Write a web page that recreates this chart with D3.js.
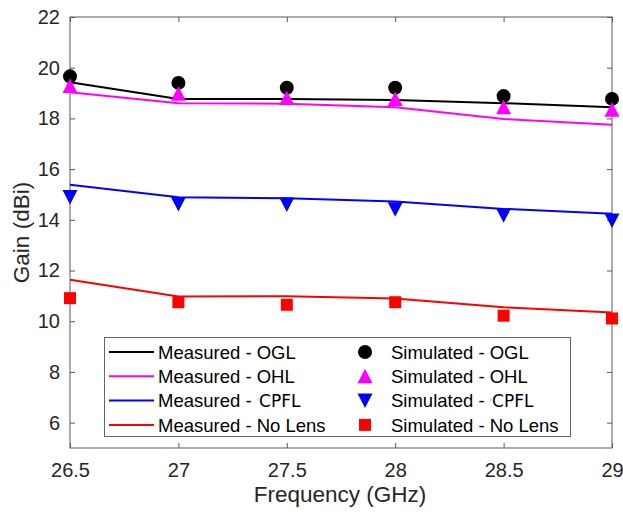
<!DOCTYPE html>
<meta charset="utf-8">
<style>
  body { margin: 0; background: #fff; }
  svg { display: block; font-family: Arial, "Liberation Sans", sans-serif; }
  .label { fill: #262626; font-size: 22.5px; text-anchor: middle; }
  .leg { fill: #000; font-size: 18.5px; }
</style>
<svg width="623" height="516"></svg>
<script src="https://d3js.org/d3.v7.min.js"></script>
<script>

var freq = [26.5, 27, 27.5, 28, 28.5, 29];

var measOGL = [19.43, 18.77, 18.77, 18.73, 18.60, 18.44];
var measOHL = [19.03, 18.60, 18.58, 18.44, 17.98, 17.75];
var measCPFL = [15.38, 14.89, 14.85, 14.72, 14.43, 14.24];
var measNoLens = [11.64, 10.98, 10.99, 10.90, 10.55, 10.34];

var simOGL = [19.66, 19.40, 19.21, 19.21, 18.88, 18.77];
var simOHL = [19.28, 18.97, 18.81, 18.77, 18.44, 18.34];
var simCPFL = [14.90, 14.62, 14.60, 14.42, 14.18, 13.97];
var simNoLens = [10.91, 10.75, 10.65, 10.75, 10.22, 10.11];

var xTicks = [26.5, 27, 27.5, 28, 28.5, 29];
var yTicks = [6, 8, 10, 12, 14, 16, 18, 20, 22];

var series = [
  { name: "OGL", color: "#000000", meas: measOGL, sim: simOGL, marker: "circle" },
  { name: "OHL", color: "#ff00ff", meas: measOHL, sim: simOHL, marker: "up" },
  { name: "CPFL", color: "#0000ff", meas: measCPFL, sim: simCPFL, marker: "down" },
  { name: "No Lens", color: "#ff0000", meas: measNoLens, sim: simNoLens, marker: "square" }
];

var svg = d3.select("svg"),
    pl = 70, pr = 612, pt = 17, pb = 448;

var x = d3.scaleLinear().domain([26.5, 29]).range([pl, pr]);
var y = d3.scaleLinear().domain([5, 22]).range([pb, pt]);

var axColor = "#5a5a5a";

function styleAxis(g) {
  g.select(".domain").remove();
  g.selectAll(".tick line").attr("stroke", axColor).attr("stroke-width", 1);
  g.selectAll(".tick text").attr("fill", "#262626").style("font-size", "20px");
}

svg.append("g")
    .attr("transform", "translate(0," + pb + ")")
    .call(d3.axisBottom(x).tickValues(xTicks).tickSize(-5).tickPadding(15)
      .tickFormat(function (d) { return String(d); }))
    .call(styleAxis);

svg.append("g")
    .attr("transform", "translate(0," + pt + ")")
    .call(d3.axisTop(x).tickValues(xTicks).tickSize(-5).tickFormat(""))
    .call(styleAxis);

svg.append("g")
    .attr("transform", "translate(" + pl + ",0)")
    .call(d3.axisLeft(y).tickValues(yTicks).tickSize(-5).tickPadding(10))
    .call(styleAxis);

svg.append("g")
    .attr("transform", "translate(" + pr + ",0)")
    .call(d3.axisRight(y).tickValues(yTicks).tickSize(-5).tickFormat(""))
    .call(styleAxis);

svg.append("rect")
    .attr("x", pl).attr("y", pt)
    .attr("width", pr - pl).attr("height", pb - pt)
    .attr("fill", "none").attr("stroke", axColor).attr("stroke-width", 1);

// marker shapes
function drawMarker(g, type, cx, cy, color) {
  if (type === "circle") {
    g.append("circle").attr("cx", cx).attr("cy", cy).attr("r", 7).attr("fill", color);
  } else if (type === "up") {
    g.append("path")
      .attr("d", "M" + cx + "," + (cy - 7.5) + "L" + (cx + 7.5) + "," + (cy + 7) + "L" + (cx - 7.5) + "," + (cy + 7) + "Z")
      .attr("fill", color);
  } else if (type === "down") {
    g.append("path")
      .attr("d", "M" + cx + "," + (cy + 7.5) + "L" + (cx + 7.5) + "," + (cy - 7) + "L" + (cx - 7.5) + "," + (cy - 7) + "Z")
      .attr("fill", color);
  } else {
    g.append("rect").attr("x", cx - 6).attr("y", cy - 6).attr("width", 12).attr("height", 12).attr("fill", color);
  }
}

var line = d3.line()
    .x(function (d, i) { return x(freq[i]); })
    .y(function (d) { return y(d); });

var plot = svg.append("g");

series.forEach(function (s) {
  plot.append("path")
      .datum(s.meas)
      .attr("d", line)
      .attr("fill", "none")
      .attr("stroke", s.color)
      .attr("stroke-width", 2);
});

series.forEach(function (s) {
  s.sim.forEach(function (v, i) {
    drawMarker(plot, s.marker, x(freq[i]), y(v), s.color);
  });
});

// axis labels
svg.append("text").attr("class", "label")
    .attr("x", (pl + pr) / 2 - 1).attr("y", 502)
    .text("Frequency (GHz)");

svg.append("text").attr("class", "label")
    .attr("transform", "translate(29," + (pt + pb) / 2 + ") rotate(-90)")
    .text("Gain (dBi)");

// legend
var lg = svg.append("g");
lg.append("rect")
    .attr("x", 104.5).attr("y", 337.5).attr("width", 466).attr("height", 99)
    .attr("fill", "#fff").attr("stroke", "#666").attr("stroke-width", 1);

series.forEach(function (s, i) {
  var ry = 352 + i * 24.3;
  lg.append("line")
      .attr("x1", 109).attr("x2", 154).attr("y1", ry).attr("y2", ry)
      .attr("stroke", s.color).attr("stroke-width", 2);
  var t1 = lg.append("text").attr("class", "leg").attr("x", 158).attr("y", ry).attr("dy", "0.36em");
  var t2 = lg.append("text").attr("class", "leg").attr("x", 391).attr("y", ry).attr("dy", "0.36em");
  if (s.name === "CPFL") {
    [t1, t2].forEach(function (t, k) {
      t.append("tspan").text(k ? "Simulated - " : "Measured - ");
      t.append("tspan").attr("fill", "#bbb").style("font-size", "12px").text("'");
      t.append("tspan").style("font-family", "'DejaVu Sans', sans-serif").style("font-size", "17px").text("CPFL");
    });
  } else {
    t1.text("Measured - " + s.name);
    t2.text("Simulated - " + s.name);
  }
  drawMarker(lg, s.marker, 365, ry, s.color);
});

</script>
